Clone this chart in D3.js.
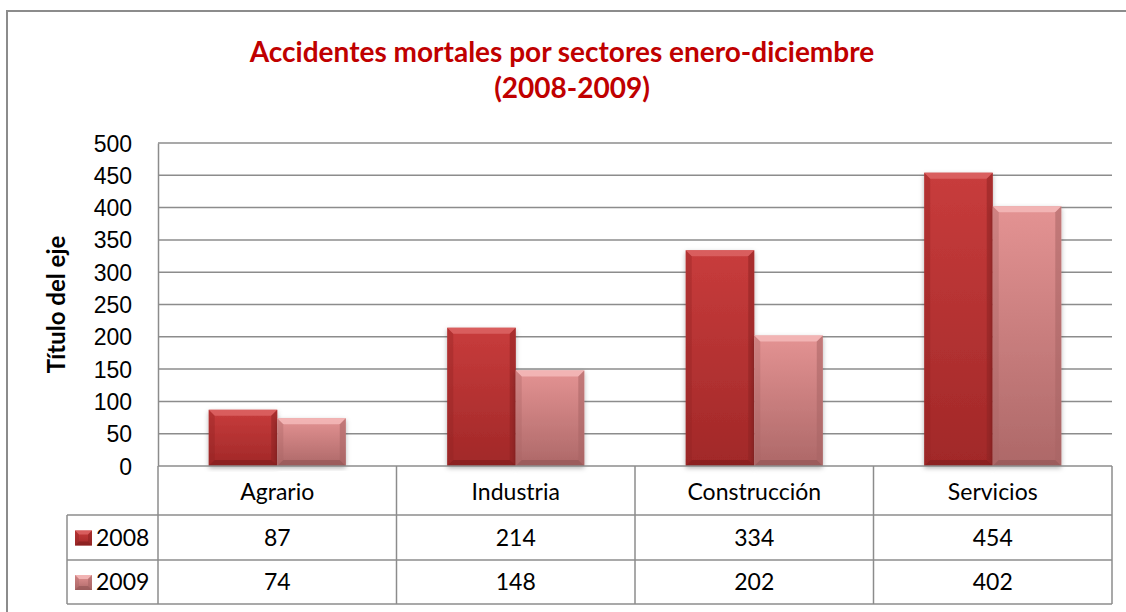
<!DOCTYPE html>
<html lang="es">
<head>
<meta charset="UTF-8">
<title>Accidentes mortales por sectores</title>
<script src="https://d3js.org/d3.v7.min.js"></script>
<style>
  body { margin: 0; background: #fff; }
  svg { display: block; font-family: Lato, "Open Sans", sans-serif; }
  .grid line { stroke: #8c8c8c; stroke-width: 1.5px; }
  .tbl line { stroke: #8c8c8c; stroke-width: 1.5px; }
  .tick-label { font-size: 23px; fill: #000; }
  .cell { font-size: 23px; fill: #000; }
</style>
</head>
<body>
<div id="chart"></div>
<script>
// data
const categories = ["Agrario", "Industria", "Construcción", "Servicios"];
const seriesNames = ["2008", "2009"];
const values2008 = [87, 214, 334, 454];
const values2009 = [74, 148, 202, 402];
const yTicks = [0, 50, 100, 150, 200, 250, 300, 350, 400, 450, 500];

const seriesValues = { "2008": values2008, "2009": values2009 };
const palette = {
  "2008": { top: "#c83c3c", bottom: "#a12828", bevelTop: "#dc6464", bevelSide: "#8e2222", bevelBottom: "#7d1d1d" },
  "2009": { top: "#e49393", bottom: "#ad6868", bevelTop: "#f4baba", bevelSide: "#a86464", bevelBottom: "#8f5454" }
};

const W = 1126, H = 612;
const plot = { left: 158, right: 1112, top: 143, bottom: 466 };
const rows = [466, 515, 560, 604];
const legendLeft = 67;

const svg = d3.select("#chart").append("svg")
  .attr("width", W).attr("height", H);

const defs = svg.append("defs");
seriesNames.forEach(s => {
  const g = defs.append("linearGradient").attr("id", "grad" + s)
    .attr("x1", 0).attr("y1", 0).attr("x2", 0).attr("y2", 1);
  g.append("stop").attr("offset", "0%").attr("stop-color", palette[s].top);
  g.append("stop").attr("offset", "100%").attr("stop-color", palette[s].bottom);
});
const shadow = defs.append("filter").attr("id", "shadow")
  .attr("x", "-10%").attr("y", "-10%").attr("width", "120%").attr("height", "120%");
shadow.append("feDropShadow").attr("dx", 0).attr("dy", 2).attr("stdDeviation", 2.5)
  .attr("flood-color", "#000").attr("flood-opacity", 0.3);

// outer chart border
svg.append("rect")
  .attr("x", 7).attr("y", 11).attr("width", W + 20).attr("height", H + 20)
  .attr("fill", "none").attr("stroke", "#8c8c8c").attr("stroke-width", 2);

// scales
const x = d3.scaleBand().domain(categories).range([plot.left, plot.right]).paddingInner(0);
const x1 = d3.scaleBand().domain(seriesNames).range([0, x.bandwidth()]).paddingInner(0).paddingOuter(0.74);
const y = d3.scaleLinear().domain([0, 500]).range([plot.bottom, plot.top]);

// title
const title = svg.append("text")
  .attr("text-anchor", "middle")
  .attr("fill", "#c00000")
  .style("font-weight", "bold")
  .style("font-size", "28px");
title.append("tspan").attr("x", 562).attr("y", 62).text("Accidentes mortales por sectores enero-diciembre");
title.append("tspan").attr("x", 572).attr("y", 98).text("(2008-2009)");

// gridlines
svg.append("g").attr("class", "grid")
  .selectAll("line").data(yTicks.filter(t => t > 0)).join("line")
  .attr("x1", plot.left).attr("x2", plot.right)
  .attr("y1", d => y(d)).attr("y2", d => y(d));

// y axis
const yAxis = d3.axisLeft(y).tickValues(yTicks).tickSize(0).tickPadding(26);
const yg = svg.append("g").attr("transform", `translate(${plot.left},0)`).call(yAxis);
yg.select(".domain").attr("stroke", "#8c8c8c").attr("stroke-width", 1.5);
yg.selectAll(".tick text").attr("class", "tick-label").attr("font-family", null).attr("font-size", null)
  .attr("dy", "0.35em");

svg.append("text")
  .attr("transform", `translate(65,${(y(0) + y(500)) / 2}) rotate(-90)`)
  .attr("text-anchor", "middle")
  .style("font-weight", "bold").style("font-size", "24px")
  .text("Título del eje");

// bars with bevel
function bevelBar(g, bx, by, bw, bh, c, b) {
  g.append("rect").attr("x", bx).attr("y", by).attr("width", bw).attr("height", bh)
    .attr("fill", "url(#grad" + c + ")").attr("filter", "url(#shadow)");
  const col = palette[c];
  b = Math.min(b, bh / 2, bw / 2);
  g.append("polygon").attr("fill", col.bevelTop).attr("opacity", 0.85)
    .attr("points", [[bx, by], [bx + bw, by], [bx + bw - b, by + b], [bx + b, by + b]].join(" "));
  g.append("polygon").attr("fill", col.bevelSide).attr("opacity", 0.35)
    .attr("points", [[bx, by], [bx + b, by + b], [bx + b, by + bh - b], [bx, by + bh]].join(" "));
  g.append("polygon").attr("fill", col.bevelSide).attr("opacity", 0.55)
    .attr("points", [[bx + bw, by], [bx + bw - b, by + b], [bx + bw - b, by + bh - b], [bx + bw, by + bh]].join(" "));
  g.append("polygon").attr("fill", col.bevelBottom).attr("opacity", 0.6)
    .attr("points", [[bx, by + bh], [bx + b, by + bh - b], [bx + bw - b, by + bh - b], [bx + bw, by + bh]].join(" "));
}

const barsG = svg.append("g");
categories.forEach((cat, i) => {
  seriesNames.forEach(s => {
    const v = seriesValues[s][i];
    const bx = x(cat) + x1(s);
    bevelBar(barsG, bx, y(v), x1.bandwidth(), y(0) - y(v), s, 6);
  });
});

// data table
const tbl = svg.append("g").attr("class", "tbl");
tbl.append("line").attr("x1", plot.left).attr("x2", plot.right).attr("y1", rows[0]).attr("y2", rows[0]);
rows.slice(1).forEach(r => {
  tbl.append("line").attr("x1", legendLeft).attr("x2", plot.right).attr("y1", r).attr("y2", r);
});
x.domain().forEach(cat => {
  tbl.append("line").attr("x1", x(cat)).attr("x2", x(cat)).attr("y1", rows[0]).attr("y2", rows[3]);
});
tbl.append("line").attr("x1", plot.right).attr("x2", plot.right).attr("y1", rows[0]).attr("y2", rows[3]);
tbl.append("line").attr("x1", legendLeft).attr("x2", legendLeft).attr("y1", rows[1]).attr("y2", rows[3]);

// category labels
svg.append("g").selectAll("text").data(categories).join("text")
  .attr("class", "cell").attr("text-anchor", "middle")
  .attr("x", d => x(d) + x.bandwidth() / 2)
  .attr("y", (rows[0] + rows[1]) / 2 + 1).attr("dy", "0.35em")
  .text(d => d);

// value rows
seriesNames.forEach((s, r) => {
  const cy = (rows[r + 1] + rows[r + 2]) / 2;
  svg.append("g").selectAll("text").data(seriesValues[s]).join("text")
    .attr("class", "cell").attr("text-anchor", "middle")
    .attr("x", (d, i) => x(categories[i]) + x.bandwidth() / 2)
    .attr("y", cy).attr("dy", "0.35em")
    .text(d => d);
  const lg = svg.append("g");
  bevelBar(lg, 75, cy - 7, 17, 15, s, 4);
  lg.select("rect").attr("filter", null);
  svg.append("text").attr("class", "cell")
    .attr("x", 96).attr("y", cy).attr("dy", "0.35em").text(s);
});
</script>
</body>
</html>
